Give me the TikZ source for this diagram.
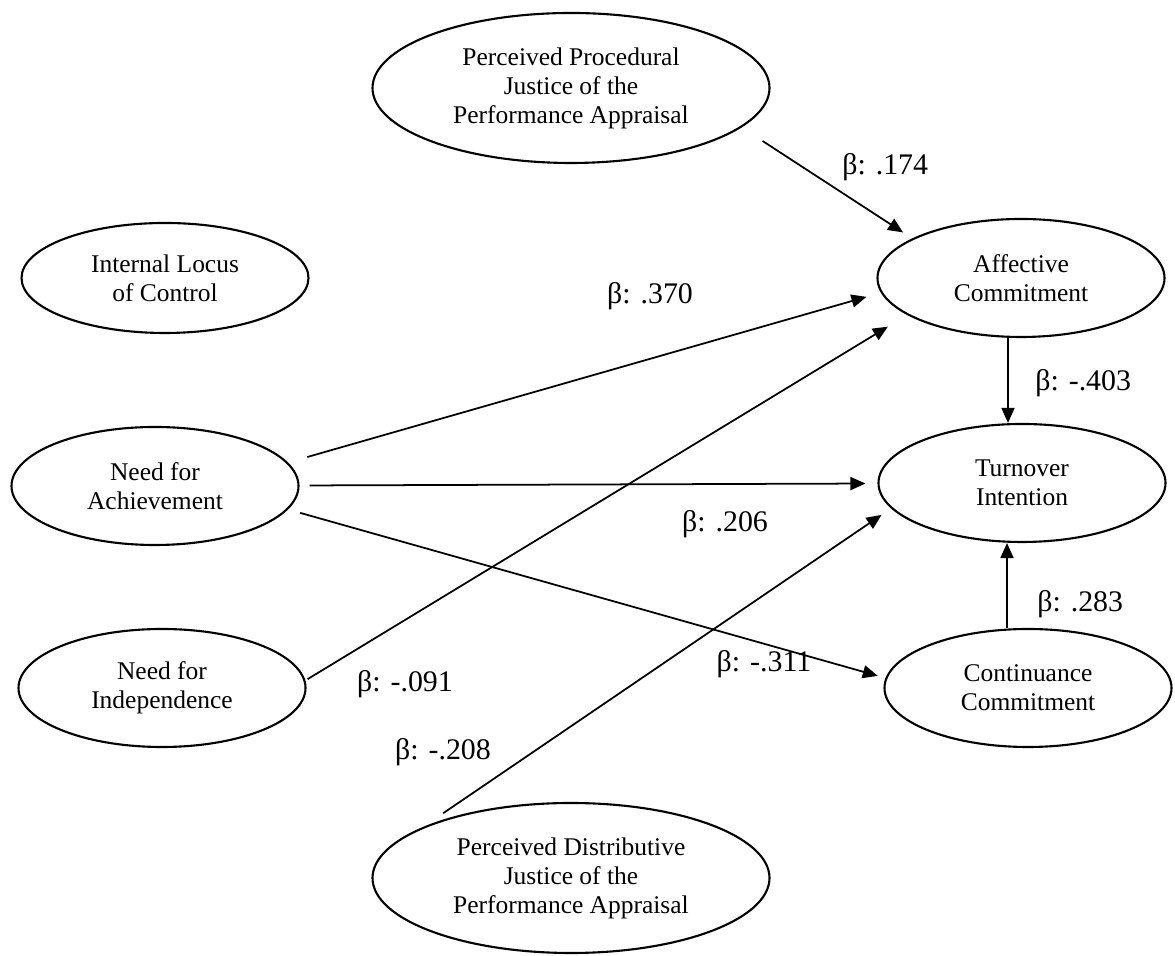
\documentclass[tikz,border=0pt]{standalone}
\usepackage{fontspec}
\setmainfont{Liberation Serif}
\usetikzlibrary{arrows.meta, shapes.geometric}

\begin{document}
\begin{tikzpicture}[
		>={Triangle[length=3mm, width=2.6mm]},
		construct/.style={ellipse, draw, line width=1.2pt, align=center, inner sep=0pt, minimum width=5.74cm, minimum height=2.36cm, font=\fontsize{14.5}{16.5}\selectfont},
		justice/.style={construct, minimum width=7.94cm, minimum height=3cm},
		link/.style={->, line width=1pt},
		beta/.style={font=\fontsize{17}{20}\selectfont, inner sep=0pt}
		]
		
		\useasboundingbox (0,0) rectangle (23.5,19.12);
		
		% ==========================================
		% Constructs
		% ==========================================
		\node[justice] (ppj) at (11.42,17.36) {Perceived Procedural\\Justice of the\\Performance Appraisal};
		\node[construct, minimum height=2.2cm] (ilc) at (3.30,13.56) {Internal Locus\\of Control};
		\node[construct] (nach) at (3.10,9.40) {Need for\\Achievement};
		\node[construct] (nind) at (3.24,5.36) {Need for\\Independence};
		\node[justice] (pdj) at (11.42,1.56) {Perceived Distributive\\Justice of the\\Performance Appraisal};
		
		\node[construct] (ac) at (20.42,13.56) {Affective\\Commitment};
		\node[construct] (ti) at (20.44,9.46) {Turnover\\Intention};
		\node[construct] (cc) at (20.56,5.36) {Continuance\\Commitment};
		
		% ==========================================
		% Paths
		% ==========================================
		\draw[link, shorten <=0.5cm, shorten >=0.22cm] (ppj.-13.6) -- (ac.160.2);
		\draw[link, shorten <=0.4cm, shorten >=0.3cm] (nach.10.2) -- (ac.186.1);
		\draw[link, shorten <=0.2cm, shorten >=0.24cm] (nach) -- (ti);
		\draw[link, shorten <=0.25cm, shorten >=0.16cm] (nach.-10.3) -- (cc.176.5);
		\draw[link, shorten <=0.05cm, shorten >=0.45cm] (nind.3.85) -- (ac.198.4);
		\draw[link, shorten <=0.49cm, shorten >=0.23cm] (pdj.161.8) -- (ti.191.1);
		\draw[link] ([xshift=-0.26cm]ac.south) -- ([xshift=-0.26cm]ac.south |- ti.north);
		\draw[link] ([xshift=-0.42cm]cc.north) -- ([xshift=-0.42cm]cc.north |- ti.south);
		
		% coefficients
		\node[beta, anchor=west] (b174) at (16.84,15.78) {β: .174};
		\node[beta] (b370) at (13.0,13.2) {β: .370};
		\node[beta] (b206) at (14.5,8.64) {β: .206};
		\node[beta, anchor=west] (b403) at (20.7,11.46) {β: -.403};
		\node[beta, anchor=west] (b283) at (20.74,7.04) {β: .283};
		\node[beta] (b091) at (8.1,5.44) {β: -.091};
		\node[beta] (b311) at (15.28,5.84) {β: -.311};
		\node[beta] (b208) at (8.86,4.08) {β: -.208};
		
	\end{tikzpicture}
\end{document}
